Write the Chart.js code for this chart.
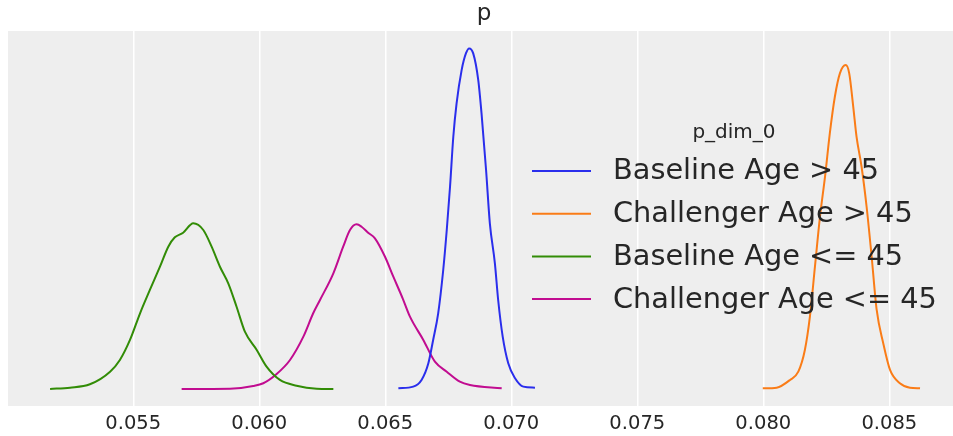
<!DOCTYPE html>
<html>
<head>
<meta charset="utf-8">
<script src="https://cdn.jsdelivr.net/npm/chart.js@4.4.1/dist/chart.umd.min.js"></script>
<style>
  html, body { margin: 0; padding: 0; background: #ffffff; }
  #wrap { width: 953px; height: 436px; }
</style>
</head>
<body>
<div id="wrap"><canvas id="myChart" width="953" height="436"></canvas></div>
<script>
// posterior density curves (KDE)
const chartTitle = 'p';
const legendTitle = 'p_dim_0';
const seriesNames = ['Baseline Age > 45', 'Challenger Age > 45', 'Baseline Age <= 45', 'Challenger Age <= 45'];
const seriesColors = ['#2a2eec', '#fa7c17', '#328c06', '#c10c90'];
const xTicks = [0.055, 0.060, 0.065, 0.070, 0.075, 0.080, 0.085];

// Baseline Age > 45
const baseOldX = [0.06552, 0.06611, 0.06644, 0.06671, 0.06690, 0.06710, 0.06730, 0.06744, 0.06757, 0.06770, 0.06783, 0.06803, 0.06820, 0.06833, 0.06849, 0.06869, 0.06882, 0.06900, 0.06915, 0.06935, 0.06948, 0.06966, 0.06988, 0.07015, 0.07048, 0.07094];
const baseOldY = [1.1, 3.8, 14.8, 42.2, 80.5, 124.3, 195.4, 261.1, 332.2, 414.3, 469.1, 523.8, 551.2, 559.4, 551.2, 507.4, 452.7, 359.6, 272.1, 206.4, 146.1, 85.9, 42.2, 17.6, 3.8, 2.1];

// Challenger Age > 45
const challOldX = [0.07998, 0.08053, 0.08106, 0.08139, 0.08165, 0.08185, 0.08205, 0.08225, 0.08245, 0.08264, 0.08284, 0.08304, 0.08327, 0.08341, 0.08357, 0.08370, 0.08390, 0.08410, 0.08430, 0.08450, 0.08476, 0.08503, 0.08542, 0.08582, 0.08622];
const challOldY = [1.1, 2.1, 14.8, 28.4, 64.0, 118.7, 200.8, 282.9, 348.6, 419.9, 480.0, 518.4, 532.0, 518.4, 463.5, 414.3, 365.0, 299.3, 217.2, 129.7, 75.0, 31.2, 9.4, 2.1, 1.1];

// Baseline Age <= 45
const baseYoungX = [0.05170, 0.05249, 0.05328, 0.05408, 0.05447, 0.05487, 0.05527, 0.05566, 0.05606, 0.05639, 0.05665, 0.05698, 0.05738, 0.05778, 0.05811, 0.05844, 0.05877, 0.05910, 0.05943, 0.05990, 0.06029, 0.06082, 0.06148, 0.06228, 0.06294];
const baseYoungY = [0.0, 2.1, 7.7, 28.4, 47.6, 80.5, 124.3, 162.6, 200.8, 233.7, 249.1, 256.6, 272.1, 261.1, 233.7, 200.8, 173.6, 135.1, 94.1, 64.0, 36.6, 14.8, 5.4, 0.5, 0.0];

// Challenger Age <= 45
const challYoungX = [0.05692, 0.05884, 0.05976, 0.06016, 0.06069, 0.06122, 0.06175, 0.06214, 0.06241, 0.06294, 0.06333, 0.06360, 0.06386, 0.06406, 0.06432, 0.06459, 0.06499, 0.06532, 0.06569, 0.06598, 0.06651, 0.06697, 0.06744, 0.06796, 0.06836, 0.06962];
const challYoungY = [0.0, 0.5, 4.9, 9.4, 24.6, 47.6, 85.9, 124.3, 146.1, 190.0, 233.7, 261.1, 270.4, 266.5, 256.6, 247.5, 217.2, 184.4, 148.9, 118.7, 80.5, 44.8, 28.4, 12.0, 6.6, 1.1];

const allX = [baseOldX, challOldX, baseYoungX, challYoungX];
const allY = [baseOldY, challOldY, baseYoungY, challYoungY];

const textColor = '#262626';

const bgPlugin = {
    id: 'plotBg',
    beforeDraw(chart) {
        const ctx = chart.ctx;
        const a = chart.chartArea;
        ctx.save();
        ctx.fillStyle = '#eeeeee';
        ctx.fillRect(a.left, a.top, a.right - a.left, a.bottom - a.top);
        ctx.restore();
    }
};

// matplotlib style legend (no frame) plus the axes title
const legendPlugin = {
    id: 'mplLegend',
    afterDraw(chart) {
        const ctx = chart.ctx;
        ctx.save();
        ctx.fillStyle = textColor;
        ctx.textBaseline = 'middle';
        ctx.textAlign = 'center';
        ctx.font = '23px "DejaVu Sans"';
        ctx.fillText(chartTitle, 484, 14);
        ctx.font = '20px "DejaVu Sans"';
        ctx.fillText(legendTitle, 734, 133);
        ctx.textAlign = 'left';
        ctx.font = '28.8px "DejaVu Sans"';
        seriesNames.forEach((name, i) => {
            const y = 171 + i * 42.7;
            ctx.strokeStyle = seriesColors[i];
            ctx.lineWidth = 2;
            ctx.beginPath();
            ctx.moveTo(532, y);
            ctx.lineTo(591, y);
            ctx.stroke();
            ctx.fillStyle = textColor;
            ctx.fillText(name, 613, y + 1);
        });
        ctx.restore();
    }
};

function createChart(){
    const datasets = seriesNames.map((name, i) => ({
        label: name,
        data: allX[i].map((x, j) => ({x: x, y: allY[i][j]})),
        borderColor: seriesColors[i],
        backgroundColor: seriesColors[i],
        borderWidth: 2,
        pointRadius: 0,
        cubicInterpolationMode: 'monotone',
        fill: false
    }));

    const ctx = document.getElementById('myChart');
    new Chart(ctx, {
        type: 'line',
        data: { datasets: datasets },
        plugins: [bgPlugin, legendPlugin],
        options: {
            responsive: false,
            animation: false,
            devicePixelRatio: 1,
            layout: { padding: { left: 8, top: 31, right: 0, bottom: 0 } },
            plugins: {
                legend: { display: false },
                title: { display: false },
                tooltip: { enabled: false }
            },
            scales: {
                x: {
                    type: 'linear',
                    min: 0.05003,
                    max: 0.087528,
                    border: { display: false },
                    grid: { color: '#ffffff', lineWidth: 1.5, drawTicks: false },
                    afterBuildTicks: function(scale){
                        scale.ticks = xTicks.map(v => ({value: v}));
                    },
                    afterFit: function(scale){
                        scale.height = 30;
                    },
                    ticks: {
                        padding: 6,
                        color: textColor,
                        maxRotation: 0,
                        autoSkip: false,
                        font: { family: 'DejaVu Sans', size: 19.5 },
                        callback: function(val){
                            return val.toFixed(3);
                        }
                    }
                },
                y: {
                    display: false,
                    min: -28,
                    max: 588
                }
            }
        }
    });
}

createChart();
</script>
</body>
</html>
